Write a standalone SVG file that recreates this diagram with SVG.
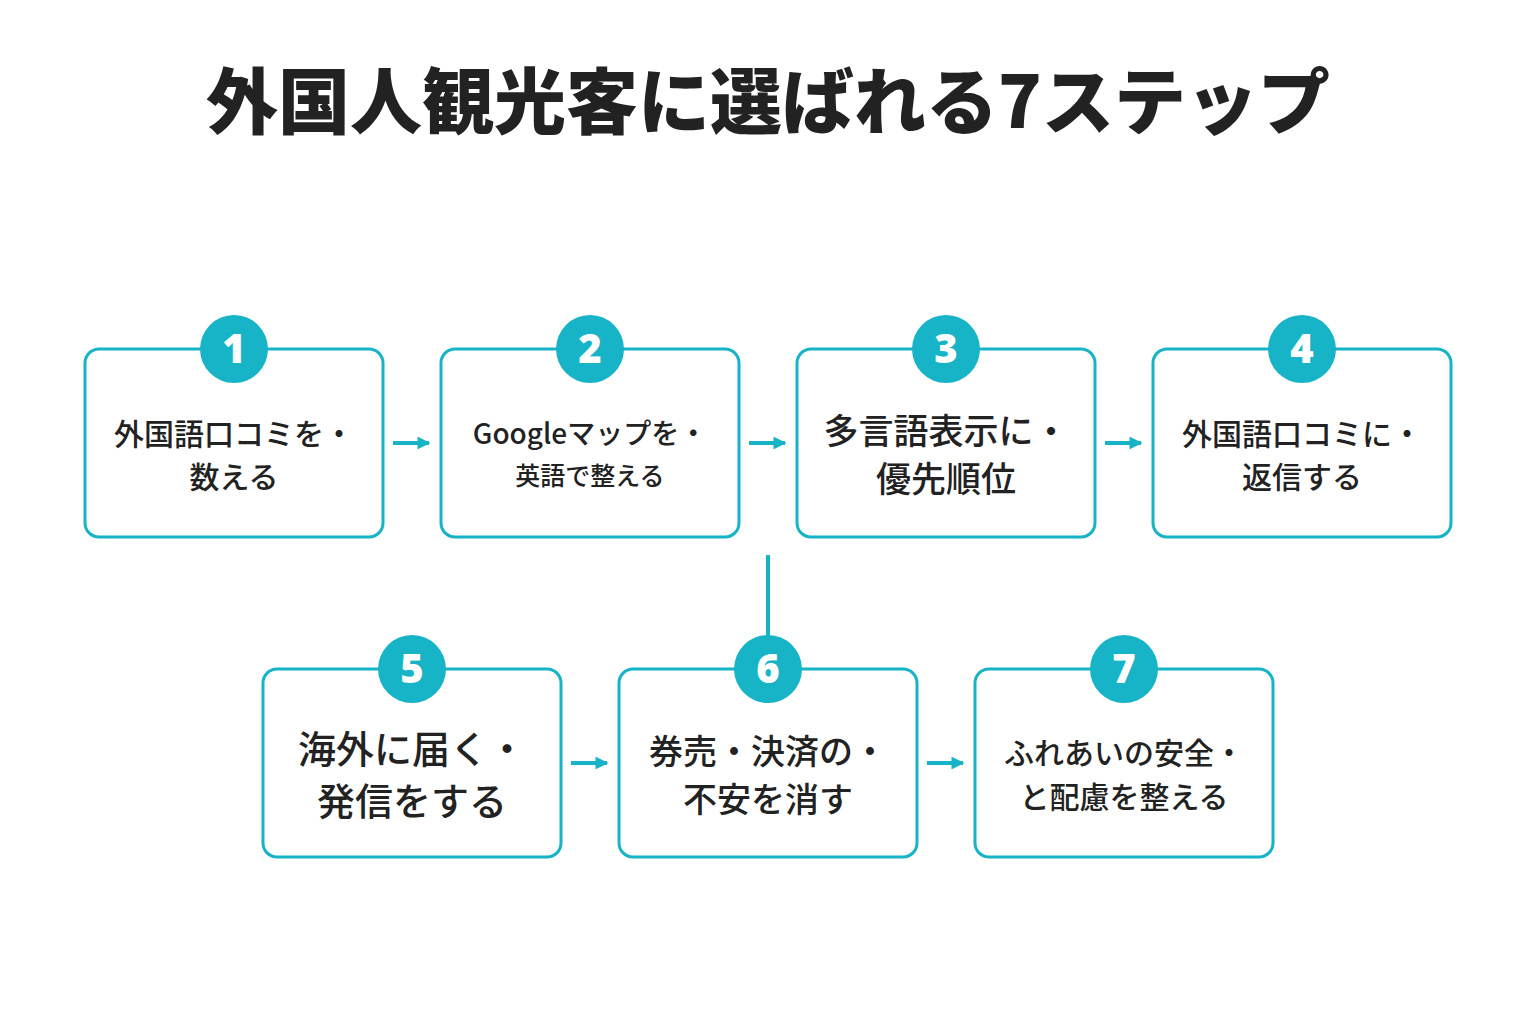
<svg xmlns="http://www.w3.org/2000/svg" width="1536" height="1024" viewBox="0 0 1536 1024">
<defs>
<style>
.box{fill:#fff;stroke:#17b3c6;stroke-width:3}
.c{fill:#17b3c6}
.n{font-family:"Noto Sans",sans-serif;font-weight:900;font-size:40px;fill:#fff;text-anchor:middle}
.t{font-family:"Noto Sans CJK JP",sans-serif;font-weight:500;fill:#222;text-anchor:middle}
.ln{stroke:#17b3c6;stroke-width:4;fill:none}
</style>
<marker id="a" viewBox="0 0 10 10" refX="9" refY="5" markerWidth="3.2" markerHeight="3.2" orient="auto"><path d="M0,0L10,5L0,10z" fill="#17b3c6"/></marker>
</defs>
<rect width="1536" height="1024" fill="#fff"/>
<text x="768" y="128" font-family="Noto Sans CJK JP,sans-serif" font-weight="900" font-size="72" fill="#222" text-anchor="middle">外国人観光客に選ばれる7ステップ</text>
<g id="connectors">
<line class="ln" x1="393" y1="443" x2="429" y2="443" marker-end="url(#a)"/>
<line class="ln" x1="749" y1="443" x2="785" y2="443" marker-end="url(#a)"/>
<line class="ln" x1="1105" y1="443" x2="1141" y2="443" marker-end="url(#a)"/>
<line class="ln" x1="571" y1="763" x2="607" y2="763" marker-end="url(#a)"/>
<line class="ln" x1="927" y1="763" x2="963" y2="763" marker-end="url(#a)"/>
<line class="ln" x1="768" y1="555" x2="768" y2="640"/>
</g>
<g id="n1"><rect class="box" x="85" y="349" width="298" height="188" rx="14"/><circle class="c" cx="234" cy="349" r="34"/><text class="n" x="234" y="363">1</text><text class="t" font-size="30" x="234" y="445">外国語口コミを・</text><text class="t" font-size="30" x="234" y="488">数える</text></g>
<g id="n2"><rect class="box" x="441" y="349" width="298" height="188" rx="14"/><circle class="c" cx="590" cy="349" r="34"/><text class="n" x="590" y="363">2</text><text class="t" font-size="28" x="590" y="444">Googleマップを・</text><text class="t" font-size="25" x="590" y="485">英語で整える</text></g>
<g id="n3"><rect class="box" x="797" y="349" width="298" height="188" rx="14"/><circle class="c" cx="946" cy="349" r="34"/><text class="n" x="946" y="363">3</text><text class="t" font-size="35" x="946" y="444">多言語表示に・</text><text class="t" font-size="35" x="946" y="492">優先順位</text></g>
<g id="n4"><rect class="box" x="1153" y="349" width="298" height="188" rx="14"/><circle class="c" cx="1302" cy="349" r="34"/><text class="n" x="1302" y="363">4</text><text class="t" font-size="30" x="1302" y="445">外国語口コミに・</text><text class="t" font-size="30" x="1302" y="488">返信する</text></g>
<g id="n5"><rect class="box" x="263" y="669" width="298" height="188" rx="14"/><circle class="c" cx="412" cy="669" r="34"/><text class="n" x="412" y="683">5</text><text class="t" font-size="38" x="412" y="763">海外に届く・</text><text class="t" font-size="38" x="412" y="815">発信をする</text></g>
<g id="n6"><rect class="box" x="619" y="669" width="298" height="188" rx="14"/><circle class="c" cx="768" cy="669" r="34"/><text class="n" x="768" y="683">6</text><text class="t" font-size="34" x="768" y="764">券売・決済の・</text><text class="t" font-size="34" x="768" y="812">不安を消す</text></g>
<g id="n7"><rect class="box" x="975" y="669" width="298" height="188" rx="14"/><circle class="c" cx="1124" cy="669" r="34"/><text class="n" x="1124" y="683">7</text><text class="t" font-size="30" x="1124" y="764">ふれあいの安全・</text><text class="t" font-size="30" x="1124" y="808">と配慮を整える</text></g>
</svg>
